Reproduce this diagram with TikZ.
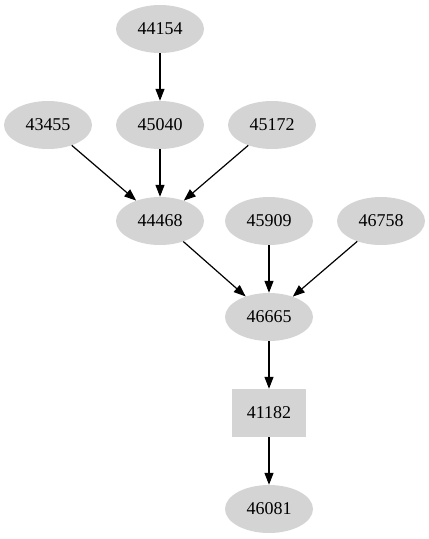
\documentclass[tikz,border=0pt]{standalone}
\usepackage{fontspec}
\setmainfont{Liberation Serif}
\usetikzlibrary{shapes.geometric,arrows.meta}
\begin{document}
\begin{tikzpicture}[x=1pt,y=-1pt,
  el/.style={ellipse,fill=black!17,draw=none,minimum width=88pt,minimum height=48pt,inner sep=0pt,font=\fontsize{18}{20}\selectfont},
  bx/.style={rectangle,fill=black!17,draw=none,minimum width=74pt,minimum height=48pt,inner sep=0pt,font=\fontsize{18}{20}\selectfont},
  ar/.style={-{Triangle[length=12pt,width=9pt]},line width=1.2pt,black}]
\useasboundingbox (0,0) rectangle (429,539);
\node[el] (n44154) at (160,29) {44154};
\node[el] (n43455) at (48,125) {43455};
\node[el] (n45040) at (160,125) {45040};
\node[el] (n45172) at (272,125) {45172};
\node[el] (n44468) at (160,221) {44468};
\node[el] (n45909) at (269,221) {45909};
\node[el] (n46758) at (381,221) {46758};
\node[el] (n46665) at (269,317) {46665};
\node[bx] (n41182) at (269,413) {41182};
\node[el] (n46081) at (269,509) {46081};
\draw[ar] (n44154) -- (n45040);
\draw[ar] (n43455) -- (n44468);
\draw[ar] (n45040) -- (n44468);
\draw[ar] (n45172) -- (n44468);
\draw[ar] (n44468) -- (n46665);
\draw[ar] (n45909) -- (n46665);
\draw[ar] (n46758) -- (n46665);
\draw[ar] (n46665) -- (n41182);
\draw[ar] (n41182) -- (n46081);
\end{tikzpicture}
\end{document}
